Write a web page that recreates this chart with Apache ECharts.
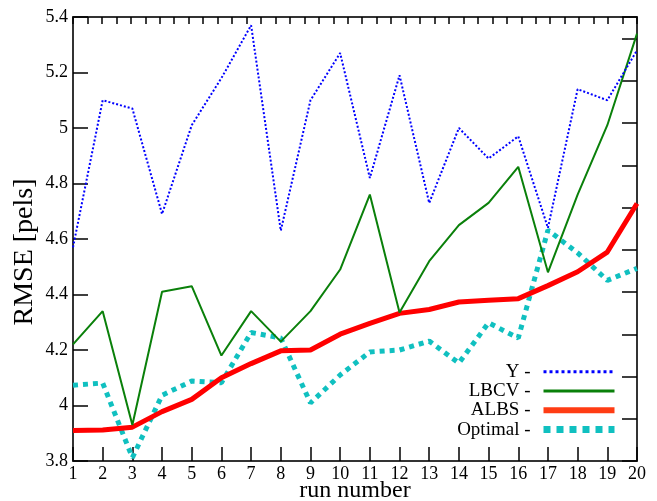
<!DOCTYPE html>
<html>
<head>
<meta charset="utf-8">
<script src="https://cdn.jsdelivr.net/npm/echarts@6/dist/echarts.min.js"></script>
<style>html,body{margin:0;padding:0;background:#fff}#c{width:657px;height:501px}</style>
</head>
<body>
<div id="c"></div>
<script>
const runs = [1,2,3,4,5,6,7,8,9,10,11,12,13,14,15,16,17,18,19,20];
const yVals = [4.57,5.10,5.07,4.69,5.01,5.18,5.37,4.63,5.10,5.27,4.82,5.19,4.73,5.00,4.89,4.97,4.64,5.14,5.10,5.28];
const lbcvVals = [4.22,4.34,3.93,4.41,4.43,4.18,4.34,4.23,4.34,4.49,4.76,4.335,4.52,4.65,4.73,4.86,4.48,4.76,5.01,5.34];
const albsVals = [3.91,3.912,3.922,3.978,4.022,4.10,4.151,4.197,4.20,4.257,4.296,4.332,4.346,4.373,4.379,4.385,4.432,4.482,4.553,4.728];
const optVals = [4.073,4.081,3.812,4.037,4.088,4.082,4.263,4.243,4.009,4.11,4.193,4.20,4.232,4.153,4.298,4.243,4.632,4.55,4.451,4.494];
const seriesNames = ['Y','LBCV','ALBS','Optimal'];
const yTicks = {min:3.8, max:5.4, step:0.2};

const pair = vals => runs.map((r,i)=>[r, vals[i]]);
const FONT = '"Liberation Serif", "DejaVu Serif", serif';

const chart = echarts.init(document.getElementById('c'), null, {renderer:'canvas'});
chart.setOption({
  animation:false,
  backgroundColor:'#fff',
  grid:{left:73, right:20, top:17, bottom:40, containLabel:false, outerBoundsMode:'none'},
  xAxis:[{
    type:'value', min:1, max:20, interval:1, position:'bottom',
    name:'run number', nameLocation:'middle', nameGap:18, nameMoveOverlap:false,
    nameTextStyle:{fontFamily:FONT, fontSize:24, color:'#000'},
    axisLine:{show:true, onZero:false, lineStyle:{color:'#333', width:2}},
    axisTick:{show:true, inside:true, length:14, lineStyle:{color:'#000', width:1.5}},
    axisLabel:{fontFamily:FONT, fontSize:18, color:'#000', margin:4},
    splitLine:{show:false}
  },{
    type:'value', min:0, max:39, interval:1, position:'top',
    axisLine:{show:true, onZero:false, lineStyle:{color:'#333', width:2}},
    axisTick:{show:true, inside:true, length:7, lineStyle:{color:'#000', width:1.5}},
    axisLabel:{show:false}, splitLine:{show:false}
  }],
  yAxis:[{
    type:'value', min:yTicks.min, max:yTicks.max, interval:yTicks.step, position:'left',
    name:'RMSE [pels]', nameLocation:'middle', nameGap:34, nameRotate:90, nameMoveOverlap:false,
    nameTextStyle:{fontFamily:FONT, fontSize:28, color:'#000', padding:[0,26,0,0]},
    axisLine:{show:true, onZero:false, lineStyle:{color:'#333', width:2}},
    axisTick:{show:true, inside:true, length:15, lineStyle:{color:'#000', width:1.5}},
    axisLabel:{fontFamily:FONT, fontSize:18, color:'#000', margin:5,
      formatter:v=>String(Number(v.toFixed(1)))},
    splitLine:{show:false}
  },{
    type:'value', min:0, max:10.51, interval:1, position:'right',
    axisLine:{show:true, onZero:false, lineStyle:{color:'#333', width:2}},
    axisTick:{show:true, inside:true, length:15, lineStyle:{color:'#000', width:1.5}},
    axisLabel:{show:false}, splitLine:{show:false}
  }],
  legend:{
    orient:'vertical', right:34, top:357, align:'right',
    itemWidth:71, itemHeight:10, itemGap:0,
    textStyle:{fontFamily:FONT, fontSize:19, color:'#000', lineHeight:19.3, padding:[0,8,0,0]},
    formatter:n=>n+' -',
    data:[
      {name:'Y', itemStyle:{opacity:0}, lineStyle:{width:3, type:[3,3], color:'#0000ff'}},
      {name:'LBCV', itemStyle:{opacity:0}, lineStyle:{width:3, type:'solid', color:'#0a800a'}},
      {name:'ALBS', itemStyle:{opacity:0}, lineStyle:{width:6, type:'solid', color:'#ff3c14'}},
      {name:'Optimal', itemStyle:{opacity:0}, lineStyle:{width:7, type:[7,6], color:'#10c0c0'}}
    ]
  },
  series:[
    {name:seriesNames[0], type:'line', data:pair(yVals), symbol:'none', showSymbol:false,
     lineStyle:{color:'#0000ff', width:2, type:[2,2]}, itemStyle:{color:'#0000ff'}, z:4},
    {name:seriesNames[1], type:'line', data:pair(lbcvVals), symbol:'none', showSymbol:false,
     lineStyle:{color:'#0a800a', width:2}, itemStyle:{color:'#0a800a'}, z:3},
    {name:seriesNames[2], type:'line', data:pair(albsVals), symbol:'none', showSymbol:false,
     lineStyle:{color:'#ff0000', width:5}, itemStyle:{color:'#ff0000'}, z:2},
    {name:seriesNames[3], type:'line', data:pair(optVals), symbol:'none', showSymbol:false,
     lineStyle:{color:'#10c0c0', width:5, type:[5,5]}, itemStyle:{color:'#10c0c0'}, z:1}
  ]
});
</script>
</body>
</html>
